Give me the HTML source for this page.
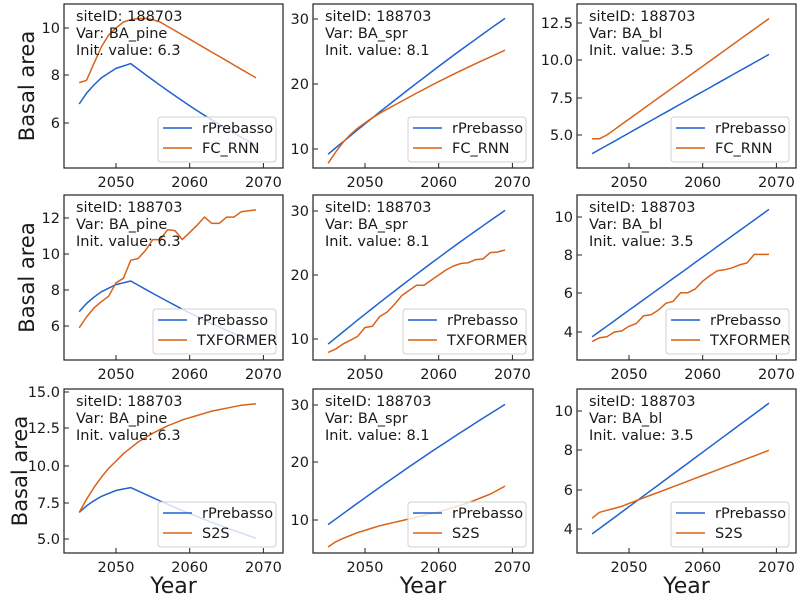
<!DOCTYPE html>
<html><head><meta charset="utf-8"><style>
html,body{margin:0;padding:0;background:#fff}
svg{display:block}
text{font-family:"DejaVu Sans","Liberation Sans",sans-serif;fill:#1a1a1a}
</style></head><body>
<svg id="s" width="800" height="600" xmlns="http://www.w3.org/2000/svg"></svg>
<script>
const S=document.getElementById('s');let h='';
const B='#1f62cf',O='#d9621a';
const cols=[[64,283],[313,533],[577,796]];
const rows=[[4,168],[195,360],[389,553]];
function lin(a,b,n){const r=[];for(let i=0;i<n;i++)r.push(a+(b-a)*(i+1)/n);return r;}
const pineB=[6.8,7.25,7.6,7.9,8.1,8.3,8.4,8.5];for(let t=1;t<=17;t++)pineB.push(8.5-3.45*t/17-0.15*Math.sin(Math.PI*t/17));
const sprB=[];for(let t=0;t<25;t++)sprB.push(9.2+0.95*t-0.0033*t*t);
const blB=[];for(let t=0;t<25;t++)blB.push(3.75+(10.4-3.75)*t/24);
const fcP=[7.7,7.8,8.5,9.2,9.7,10.0,10.25,10.35,10.4,10.4,10.35,10.25].concat(lin(10.25,7.9,13));
const fcS=[7.8,9.5,11.0,12.2,13.2,14.0,14.8,15.5];for(let t=1;t<=17;t++)fcS.push(15.5+9.7*t/17+0.3*Math.sin(Math.PI*t/17));
const fcB=[4.75,4.75,5.0].concat(lin(5.0,12.8,22));
const txP=[5.9,6.5,7.0,7.35,7.65,8.4,8.65,9.65,9.75,10.2,10.8,10.8,11.35,11.3,10.8,11.2,11.6,12.05,11.7,11.7,12.05,12.05,12.35,12.4,12.45];
const txS=[7.9,8.4,9.2,9.8,10.4,11.8,12.0,13.5,14.2,15.4,16.8,17.6,18.4,18.4,19.2,20.0,20.8,21.4,21.8,21.9,22.4,22.5,23.5,23.6,23.9];
const txB=[3.5,3.7,3.75,4.0,4.05,4.3,4.45,4.85,4.9,5.15,5.5,5.6,6.05,6.05,6.25,6.65,6.95,7.2,7.25,7.35,7.5,7.6,8.05,8.05,8.05];
const s2P=[6.8,7.7,8.5,9.2,9.8,10.3,10.8,11.2,11.6,11.9,12.2,12.45,12.7,12.9,13.1,13.25,13.4,13.55,13.7,13.8,13.9,14.0,14.1,14.15,14.2];
const s2S=[5.3,6.2,6.8,7.3,7.8,8.2,8.6,9.0,9.3,9.6,9.9,10.2,10.5,10.8,11.1,11.4,11.8,12.2,12.6,13.0,13.5,14.0,14.5,15.2,15.9];
const s2B=[4.55,4.85,4.95,5.05,5.15].concat([5.3].concat(lin(5.3,8.0,19)));
const P=[
 [[ [10,28],[8,75],[6,123] ],['10','8','6'],pineB,fcP,'FC_RNN','BA_pine','6.3',118],
 [[ [30,19],[20,84],[10,149] ],['30','20','10'],sprB,fcS,'FC_RNN','BA_spr','8.1',118],
 [[ [12.5,23],[10,60],[7.5,98],[5,135] ],['12.5','10.0','7.5','5.0'],blB,fcB,'FC_RNN','BA_bl','3.5',118],
 [[ [12,218],[10,254],[8,290],[6,326] ],['12','10','8','6'],pineB,txP,'TXFORMER','BA_pine','6.3',123],
 [[ [30,211],[20,275],[10,339] ],['30','20','10'],sprB,txS,'TXFORMER','BA_spr','8.1',123],
 [[ [10,217],[8,255],[6,293],[4,332] ],['10','8','6','4'],blB,txB,'TXFORMER','BA_bl','3.5',123],
 [[ [15,392],[12.5,428],[10,466],[7.5,503],[5,539] ],['15.0','12.5','10.0','7.5','5.0'],pineB,s2P,'S2S','BA_pine','6.3',118],
 [[ [30,405],[20,462],[10,520] ],['30','20','10'],sprB,s2S,'S2S','BA_spr','8.1',118],
 [[ [10,411],[8,450],[6,490],[4,529] ],['10','8','6','4'],blB,s2B,'S2S','BA_bl','3.5',118]
];
P.forEach((p,i)=>{
 const r=Math.floor(i/3),c=i%3;const [x0,x1]=cols[c],[y0,y1]=rows[r];
 const tk=p[0];const v0=tk[0][0],py0=tk[0][1],v1=tk[tk.length-1][0],py1=tk[tk.length-1][1];
 const Y=v=>py0+(v-v0)*(py1-py0)/(v1-v0);
 const X=yr=>x0+52+(yr-2050)*7.37;
 const path=(d,col)=>'<polyline fill="none" stroke="'+col+'" stroke-width="1.5" stroke-linejoin="round" points="'+d.map((v,k)=>X(2045+k).toFixed(1)+','+Y(v).toFixed(1)).join(' ')+'"/>';
 h+='<defs><clipPath id="c'+i+'"><rect x="'+x0+'" y="'+y0+'" width="'+(x1-x0)+'" height="'+(y1-y0)+'"/></clipPath></defs>';
 h+='<g clip-path="url(#c'+i+')">'+path(p[2],B)+path(p[3],O)+'</g>';
 const tx=x0+12;
 h+='<text x="'+tx+'" y="'+(y0+17)+'" font-size="14.5">siteID: 188703</text>';
 h+='<text x="'+tx+'" y="'+(y0+34)+'" font-size="14.5">Var: '+p[5]+'</text>';
 h+='<text x="'+tx+'" y="'+(y0+51)+'" font-size="14.5">Init. value: '+p[6]+'</text>';
 const lw=p[7],lx=x1-7-lw,ly=y1-51;
 h+='<rect x="'+lx+'" y="'+ly+'" width="'+lw+'" height="45" rx="3" fill="#fff" fill-opacity="0.8" stroke="#d0d0d0"/>';
 h+='<line x1="'+(lx+5)+'" x2="'+(lx+34)+'" y1="'+(ly+11)+'" y2="'+(ly+11)+'" stroke="'+B+'" stroke-width="1.5"/>';
 h+='<line x1="'+(lx+5)+'" x2="'+(lx+34)+'" y1="'+(ly+31)+'" y2="'+(ly+31)+'" stroke="'+O+'" stroke-width="1.5"/>';
 h+='<text x="'+(lx+44)+'" y="'+(ly+16)+'" font-size="14.5">rPrebasso</text>';
 h+='<text x="'+(lx+44)+'" y="'+(ly+36)+'" font-size="14.5">'+p[4]+'</text>';
 h+='<rect x="'+x0+'" y="'+y0+'" width="'+(x1-x0)+'" height="'+(y1-y0)+'" fill="none" stroke="#222" stroke-width="1.2"/>';
 tk.forEach((t,k)=>{h+='<line x1="'+x0+'" x2="'+(x0+5)+'" y1="'+t[1]+'" y2="'+t[1]+'" stroke="#222"/>';
  h+='<text x="'+(x0-4)+'" y="'+(t[1]+5)+'" font-size="14.5" text-anchor="end">'+p[1][k]+'</text>';});
 [2050,2060,2070].forEach(yr=>{const xx=X(yr);h+='<line x1="'+xx+'" x2="'+xx+'" y1="'+y1+'" y2="'+(y1-5)+'" stroke="#222"/>';
  h+='<text x="'+xx+'" y="'+(y1+19)+'" font-size="14.5" text-anchor="middle">'+yr+'</text>';});
 if(c==0){const lx2=r==2?27:34;h+='<text transform="translate('+lx2+','+((y0+y1)/2)+') rotate(-90)" font-size="21" text-anchor="middle">Basal area</text>';}
 if(r==2)h+='<text x="'+((x0+x1)/2)+'" y="593" font-size="22" text-anchor="middle">Year</text>';
});
S.innerHTML=h;
</script>
</body></html>
